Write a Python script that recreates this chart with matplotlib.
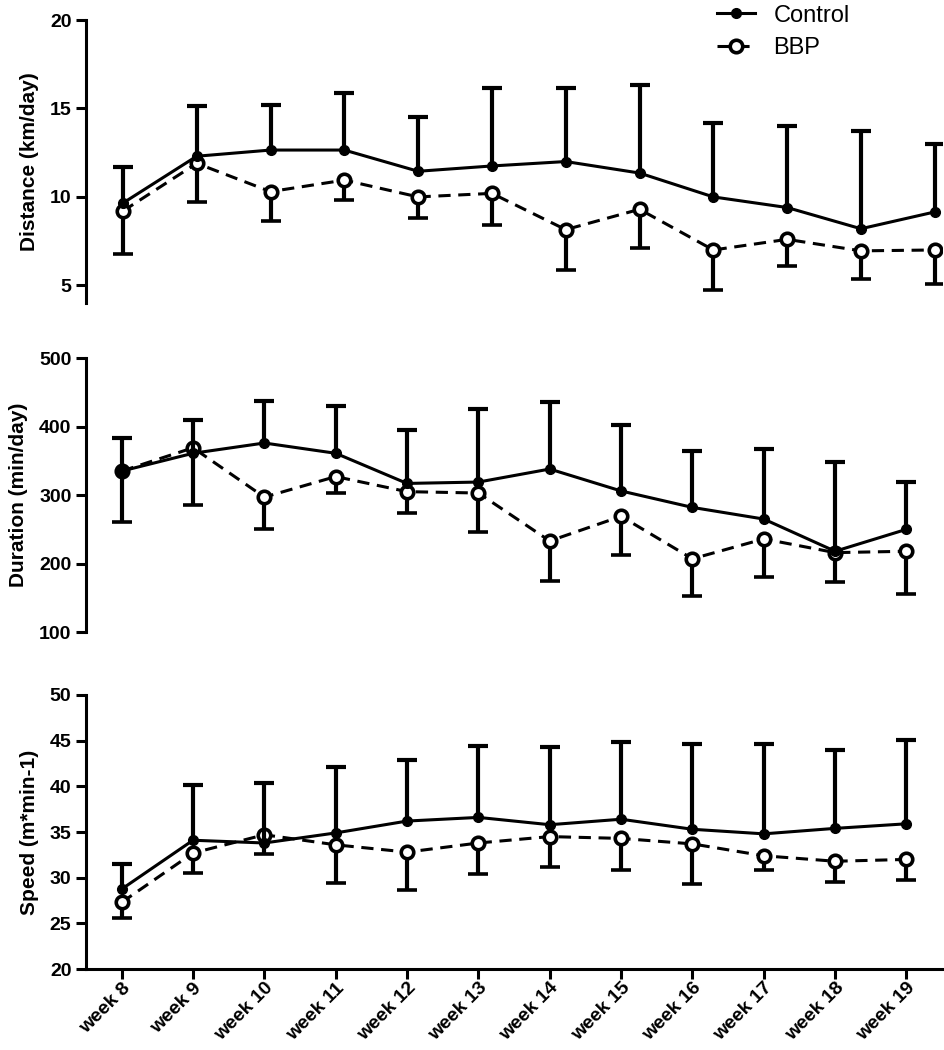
import numpy as np
import matplotlib
matplotlib.use('Agg')
import matplotlib.pyplot as plt

plt.rcParams['font.family'] = ['Liberation Sans', 'DejaVu Sans']

#数据
weeks = ['week 8', 'week 9', 'week 10', 'week 11', 'week 12', 'week 13',
         'week 14', 'week 15', 'week 16', 'week 17', 'week 18', 'week 19']

dist_ctrl = [9.65, 12.3, 12.65, 12.65, 11.45, 11.75, 12.0, 11.35, 10.0, 9.4, 8.2, 9.15]
dist_ctrl_up = [11.7, 15.15, 15.2, 15.9, 14.5, 16.15, 16.15, 16.3, 14.2, 14.0, 13.7, 13.0]
dist_bbp = [9.2, 11.9, 10.3, 10.95, 10.0, 10.2, 8.15, 9.3, 7.0, 7.6, 6.95, 7.0]
dist_bbp_lo = [6.8, 9.7, 8.65, 9.85, 8.8, 8.4, 5.85, 7.1, 4.75, 6.1, 5.35, 5.05]

dur_ctrl = [335, 361, 376, 361, 317, 319, 338, 306, 282, 265, 218, 250]
dur_ctrl_up = [383, 409, 437, 430, 395, 426, 436, 402, 364, 367, 348, 319]
dur_bbp = [335, 369, 297, 327, 305, 303, 233, 269, 207, 236, 216, 218]
dur_bbp_lo = [261, 286, 250, 303, 274, 246, 175, 212, 152, 181, 173, 155]

spd_ctrl = [28.75, 34.1, 33.8, 34.9, 36.2, 36.6, 35.8, 36.4, 35.3, 34.8, 35.4, 35.9]
spd_ctrl_up = [31.5, 40.2, 40.4, 42.1, 42.9, 44.4, 44.3, 44.8, 44.6, 44.6, 44.0, 45.1]
spd_bbp = [27.3, 32.7, 34.7, 33.6, 32.8, 33.8, 34.5, 34.3, 33.7, 32.4, 31.8, 32.0]
spd_bbp_lo = [25.6, 30.5, 32.6, 29.4, 28.7, 30.4, 31.2, 30.8, 29.3, 30.8, 29.5, 29.7]

panels = [
	('Distance (km/day)', dist_ctrl, dist_ctrl_up, dist_bbp, dist_bbp_lo, (4, 20), [5, 10, 15, 20], (-0.5, 11.1)),
	('Duration (min/day)', dur_ctrl, dur_ctrl_up, dur_bbp, dur_bbp_lo, (100, 500), [100, 200, 300, 400, 500], (-0.5, 11.5)),
	('Speed (m*min-1)', spd_ctrl, spd_ctrl_up, spd_bbp, spd_bbp_lo, (20, 50), [20, 25, 30, 35, 40, 45, 50], (-0.5, 11.5)),
]

#位置 (figure fraction)
boxes = [
	[0.0911, 0.7114, 0.9069, 0.2695],
	[0.0911, 0.398, 0.9069, 0.261],
	[0.0911, 0.0771, 0.9069, 0.261],
]

lw = 2.2
fig = plt.figure(figsize=(9.44, 10.5), dpi=100)
x = np.arange(len(weeks))

for i, (ylab, c, cu, b, bl, ylim, yt, xlim) in enumerate(panels):
	ax = fig.add_axes(boxes[i])
	c = np.array(c); cu = np.array(cu); b = np.array(b); bl = np.array(bl)

	# BBP: 向下的误差线
	eb = ax.errorbar(x, b, yerr=[b - bl, np.zeros_like(b)], fmt='o', ls='--', dashes=(4, 2.5),
		color='black', lw=lw, elinewidth=3, capsize=7.5, capthick=3,
		markersize=9, markerfacecolor='white', markeredgewidth=2.6, zorder=2)
	eb[1][1].set_visible(False)

	# Control: 向上的误差线
	ec = ax.errorbar(x, c, yerr=[np.zeros_like(c), cu - c], fmt='o', ls='-',
		color='black', lw=lw, elinewidth=3, capsize=7.5, capthick=3,
		markersize=7, zorder=3)
	ec[1][0].set_visible(False)

	ax.set_xlim(*xlim)
	ax.set_ylim(*ylim)
	ax.set_yticks(yt)
	ax.spines['top'].set_visible(False)
	ax.spines['right'].set_visible(False)
	ax.spines['left'].set_linewidth(lw)
	ax.spines['bottom'].set_linewidth(lw)
	ax.tick_params(axis='y', width=lw, length=7, labelsize=14)
	for t in ax.get_yticklabels():
		t.set_fontweight('bold')
	ax.set_ylabel(ylab, fontsize=15, fontweight='bold', labelpad=8)

	if i < 2:
		ax.spines['bottom'].set_visible(False)
		ax.set_xticks([])
	else:
		ax.set_xticks(x)
		ax.set_xticklabels(weeks, rotation=45, ha='right', va='top', rotation_mode='anchor',
			fontsize=14, fontweight='bold')
		ax.tick_params(axis='x', width=lw, length=7, pad=0.5)

	if i == 0:
		ax.legend([ec[0], eb[0]], ['Control', 'BBP'], loc='upper right', bbox_to_anchor=(0.917, 1.13),
			frameon=False, fontsize=17, handlelength=1.6, handletextpad=0.8, labelspacing=0.45)

fig.savefig('out.png', dpi=100)
